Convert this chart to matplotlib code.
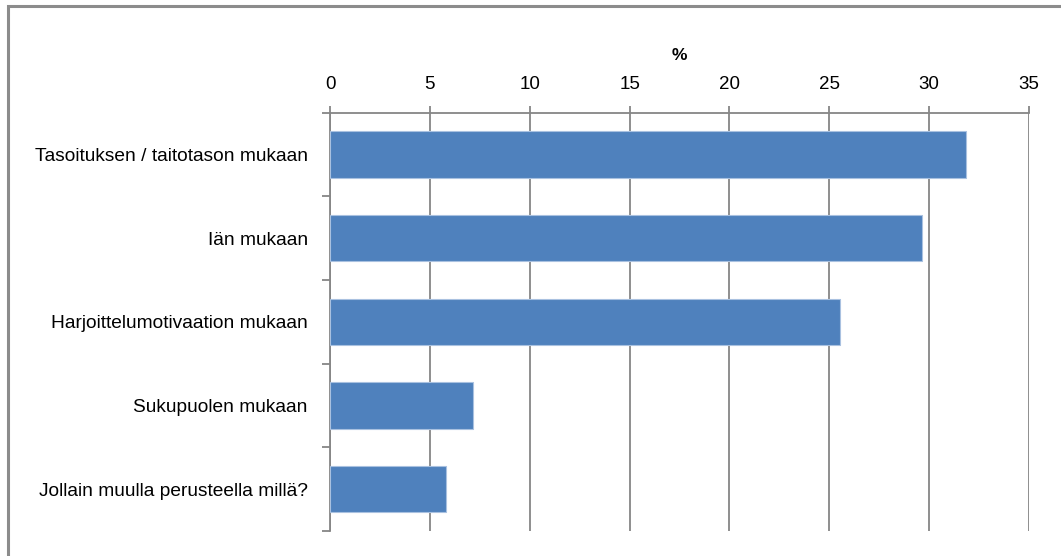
import matplotlib.pyplot as plt
import numpy as np
from matplotlib.patches import Rectangle

categories = ['Tasoituksen / taitotason mukaan', 'Iän mukaan', 'Harjoittelumotivaation mukaan',
              'Sukupuolen mukaan', 'Jollain muulla perusteella millä?']
values = [31.85, 29.65, 25.55, 7.15, 5.8]
xticks = [0, 5, 10, 15, 20, 25, 30, 35]

plt.rcParams['font.family'] = ['Liberation Sans', 'DejaVu Sans']
grid_col = '#868686'

fig = plt.figure(figsize=(10.61, 5.56), dpi=100)
# outer chart frame
fig.patches.append(Rectangle((8 / 1061, -0.1), 1.2, 1 - 6 / 556 + 0.1, transform=fig.transFigure,
                             fill=False, edgecolor='#8c8c8c', linewidth=2.2))

ax = fig.add_axes([330 / 1061, 1 - 531 / 556, 699 / 1061, (531 - 112.7) / 556])
y = np.arange(len(categories))
ax.barh(y, values, height=0.556, color='#4F81BD', edgecolor='#a9c1e0', linewidth=0.8, zorder=3)
ax.set_ylim(len(categories) - 0.5, -0.5)
ax.set_xlim(0, 35)

ax.xaxis.tick_top()
ax.xaxis.set_label_position('top')
ax.set_xticks(xticks)
ax.set_xticklabels([str(t) for t in xticks], fontsize=13.5)
ax.tick_params(axis='x', length=5, width=1.3, color=grid_col, pad=9)
ax.set_xlabel('%', fontsize=12.5, fontweight='bold', labelpad=12)
ax.grid(axis='x', color=grid_col, linewidth=1.3, zorder=0)

ax.set_yticks(y)
ax.set_yticklabels(categories, fontsize=13.8)
ax.set_yticks(np.arange(len(categories) + 1) - 0.5, minor=True)
ax.tick_params(axis='y', which='major', length=0, pad=16)
ax.tick_params(axis='y', which='minor', length=6, width=1.3, color=grid_col)

for s in ['right', 'bottom']:
    ax.spines[s].set_visible(False)
for s in ['left', 'top']:
    ax.spines[s].set_color(grid_col)
    ax.spines[s].set_linewidth(1.3)

fig.savefig('out.png', dpi=100)
